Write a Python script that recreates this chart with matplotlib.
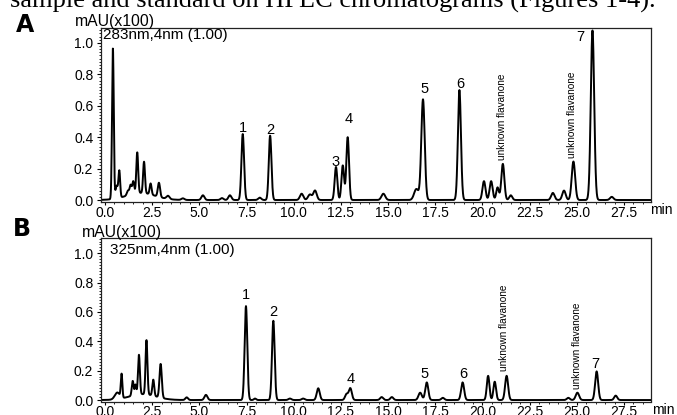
import numpy as np
import matplotlib
matplotlib.use("Agg")
import matplotlib.pyplot as plt
from matplotlib import font_manager
from matplotlib.ticker import MultipleLocator, FormatStrFormatter

# peak tables: retention time (min), height (mAU x100), width (sigma, min)
a_time = [0.42, 0.62, 0.76, 1.22, 1.36, 1.50, 1.71, 2.07, 2.42, 2.86, 3.34, 4.13, 5.19, 6.20, 6.62,
          7.30, 8.20, 8.75, 10.42, 10.86, 11.13, 12.24, 12.60, 12.86, 14.75, 16.50, 16.85, 18.78,
          20.08, 20.46, 20.80, 21.08, 21.50, 23.73, 24.32, 24.82, 25.83, 26.85, 1.90]
a_height = [0.96, 0.08, 0.17, 0.03, 0.06, 0.08, 0.26, 0.20, 0.07, 0.09, 0.02, 0.01, 0.03, 0.012, 0.03,
            0.42, 0.015, 0.41, 0.04, 0.035, 0.06, 0.21, 0.22, 0.40, 0.04, 0.07, 0.64, 0.70,
            0.12, 0.12, 0.08, 0.23, 0.03, 0.045, 0.06, 0.245, 1.08, 0.02, 0.045]
a_width = [0.045, 0.06, 0.045, 0.06, 0.05, 0.05, 0.05, 0.05, 0.05, 0.06, 0.08, 0.08, 0.08, 0.08, 0.08,
           0.07, 0.08, 0.07, 0.09, 0.10, 0.09, 0.07, 0.07, 0.07, 0.10, 0.12, 0.09, 0.08,
           0.08, 0.08, 0.07, 0.08, 0.08, 0.09, 0.09, 0.09, 0.09, 0.09, 0.75]

b_time = [0.65, 0.88, 1.47, 1.62, 1.80, 2.20, 2.56, 2.95, 2.00, 4.33, 5.35, 7.47, 7.95, 8.92, 9.80,
          10.50, 11.30, 12.80, 13.00, 14.66, 15.20, 16.70, 17.05, 17.90, 18.95, 20.30, 20.65,
          21.28, 24.55, 25.03, 26.05, 27.06]
b_height = [0.045, 0.16, 0.10, 0.07, 0.27, 0.37, 0.11, 0.23, 0.04, 0.018, 0.035, 0.64, 0.01, 0.54, 0.01,
            0.01, 0.08, 0.04, 0.08, 0.02, 0.02, 0.05, 0.12, 0.015, 0.12, 0.165, 0.125,
            0.165, 0.015, 0.05, 0.195, 0.03]
b_width = [0.13, 0.04, 0.05, 0.04, 0.05, 0.05, 0.05, 0.06, 0.70, 0.07, 0.08, 0.07, 0.06, 0.07, 0.08,
           0.08, 0.08, 0.08, 0.08, 0.08, 0.08, 0.09, 0.08, 0.08, 0.08, 0.07, 0.07,
           0.08, 0.08, 0.09, 0.08, 0.08]

# peak labels (x, y in data units)
a_labels = ["1", "2", "3", "4", "5", "6", "7"]
a_label_x = [7.30, 8.78, 12.19, 12.89, 16.92, 18.81, 25.17]
a_label_y = [0.46, 0.446, 0.244, 0.514, 0.705, 0.739, 1.036]
a_unknown_x = [21.02, 24.76]
a_unknown_y = [0.255, 0.267]

b_labels = ["1", "2", "4", "5", "6", "7"]
b_label_x = [7.47, 8.92, 13.02, 16.92, 18.96, 26.0]
b_label_y = [0.713, 0.60, 0.142, 0.176, 0.176, 0.248]
b_unknown_x = [21.14, 25.0]
b_unknown_y = [0.198, 0.074]

W, H = 677, 415
XMIN, XMAX = -0.21, 28.93

names = {f.name for f in font_manager.fontManager.ttflist}
if "Liberation Sans Narrow" in names:
    narrow_font, narrow_size = "Liberation Sans Narrow", 8.3
else:
    narrow_font, narrow_size = "Liberation Sans", 7.2

plt.rcParams["font.family"] = ["Liberation Sans", "DejaVu Sans"]


def trace(times, heights, widths, t):
    y = np.zeros_like(t)
    for t0, h, s in zip(times, heights, widths):
        y += h * np.exp(-0.5 * ((t - t0) / s) ** 2)
    return y


def setup_axes(ax, ybot, ytop):
    ax.set_xlim(XMIN, XMAX)
    ax.set_ylim(ybot, ytop)
    ax.xaxis.set_major_locator(MultipleLocator(2.5))
    ax.xaxis.set_minor_locator(MultipleLocator(0.5))
    ax.yaxis.set_major_locator(MultipleLocator(0.2))
    ax.yaxis.set_minor_locator(MultipleLocator(0.02))
    ax.xaxis.set_major_formatter(FormatStrFormatter("%.1f"))
    ax.yaxis.set_major_formatter(FormatStrFormatter("%.1f"))
    ax.tick_params(which="major", direction="out", length=2.2, width=0.8, labelsize=10, pad=0.6)
    ax.tick_params(axis="y", which="major", length=3, pad=2.5)
    ax.tick_params(which="minor", direction="out", length=1.5, width=0.6)
    for sp in ax.spines.values():
        sp.set_linewidth(0.9)
        sp.set_color("#222222")


def px_axes(left, top, right, bottom):
    return [left / W, 1 - bottom / H, (right - left) / W, (bottom - top) / H]


fig = plt.figure(figsize=(W / 100, H / 100), dpi=100)
t = np.linspace(XMIN, XMAX, 4000)

# panel A
axA = fig.add_axes(px_axes(101, 28, 651, 202.2))
setup_axes(axA, -0.014, 1.095)
axA.plot(t, trace(a_time, a_height, a_width, t), color="black", lw=1.4)
for lab, x, y in zip(a_labels, a_label_x, a_label_y):
    axA.text(x, y, lab, ha="center", va="center", fontsize=10.5)
for x, y in zip(a_unknown_x, a_unknown_y):
    axA.text(x, y, "unknown flavanone", rotation=90, ha="center", va="bottom",
             fontsize=narrow_size, family=[narrow_font, "DejaVu Sans"])
axA.text(0.004, 0.96, "283nm,4nm (1.00)", transform=axA.transAxes, ha="left", va="center", fontsize=11)

# panel B
axB = fig.add_axes(px_axes(101, 237.7, 651, 401.5))
setup_axes(axB, -0.01, 1.106)
axB.plot(t, trace(b_time, b_height, b_width, t), color="black", lw=1.4)
for lab, x, y in zip(b_labels, b_label_x, b_label_y):
    axB.text(x, y, lab, ha="center", va="center", fontsize=10.5)
for x, y in zip(b_unknown_x, b_unknown_y):
    axB.text(x, y, "unknown flavanone", rotation=90, ha="center", va="bottom",
             fontsize=narrow_size, family=[narrow_font, "DejaVu Sans"])
axB.text(0.016, 0.926, "325nm,4nm (1.00)", transform=axB.transAxes, ha="left", va="center", fontsize=11)

# figure texts
fig.text(75 / W, 1 - 21.7 / H, "mAU(x100)", ha="left", va="center", fontsize=11.3)
fig.text(81.7 / W, 1 - 232.3 / H, "mAU(x100)", ha="left", va="center", fontsize=11.3)
fig.text(661 / W, 1 - 210 / H, "min", ha="center", va="center", fontsize=10)
fig.text(663 / W, 1 - 410 / H, "min", ha="center", va="center", fontsize=10)
fig.text(16 / W, 1 - 24.5 / H, "A", ha="left", va="center", fontsize=17, fontweight="heavy",
         family=["DejaVu Sans"])
fig.text(13 / W, 1 - 228.5 / H, "B", ha="left", va="center", fontsize=17, fontweight="heavy",
         family=["DejaVu Sans"])
fig.text(10 / W, 1 - 8 / H, "sample and standard on HPLC chromatograms (Figures 1-4).", ha="left",
         va="baseline", fontsize=19, family=["Liberation Serif", "DejaVu Serif"])

fig.savefig("out.png", dpi=100)
